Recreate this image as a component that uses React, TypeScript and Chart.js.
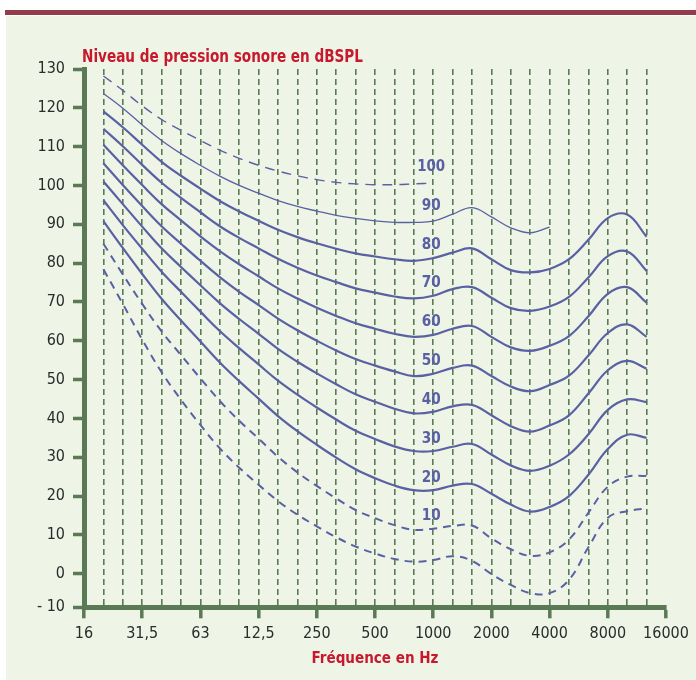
import React, { useEffect, useRef } from 'react';
import { Chart, registerables } from 'chart.js';

Chart.register(...registerables);

// Third-octave frequency categories (Hz), 16 Hz .. 16 kHz
const freqCategories = ['16', '20', '25', '31.5', '40', '50', '63', '80', '100', '125', '160', '200', '250', '315', '400', '500', '630', '800', '1000', '1250', '1600', '2000', '2500', '3150', '4000', '5000', '6300', '8000', '10000', '12500', '16000'];
// Octave tick labels as printed on the figure
const octaveTickLabels = ['16', '31,5', '63', '12,5', '250', '500', '1000', '2000', '4000', '8000', '16000'];

// Y ticks (the bottom "- 10" sits on the x axis, slightly compressed in the original drawing)
const yAxisBottom = -8.66;
const yTickValues = [yAxisBottom, 0, 10, 20, 30, 40, 50, 60, 70, 80, 90, 100, 110, 120, 130];
const yTickLabels = ['- 10', '0', '10', '20', '30', '40', '50', '60', '70', '80', '90', '100', '110', '120', '130'];

// Equal-loudness contours (dB SPL) at the third-octave categories
const curve100 = [null, 128.2, 124.5, 120.5, 117.0, 114.2, 111.6, 109.1, 107.0, 105.2, 103.7, 102.5, 101.5, 100.8, 100.4, 100.2, 100.2, 100.4, 100.6, null, null, null, null, null, null, null, null, null, null, null, null];
const curve90 = [null, 123.7, 119.9, 115.6, 111.6, 108.2, 105.2, 102.4, 100.0, 98.0, 96.1, 94.6, 93.4, 92.3, 91.5, 90.9, 90.5, 90.5, 90.8, 92.6, 94.3, 91.9, 89.1, 87.8, 89.3, null, null, null, null, null, null];
const curve80 = [null, 119.1, 115.0, 110.5, 106.1, 102.5, 99.2, 96.0, 93.3, 90.9, 88.6, 86.7, 85.1, 83.7, 82.5, 81.7, 81.0, 80.6, 81.3, 82.7, 83.8, 81.0, 78.2, 77.6, 78.5, 81.0, 86.0, 91.6, 92.5, 86.8, null];
const curve70 = [null, 114.6, 110.1, 105.3, 100.7, 96.8, 93.1, 89.5, 86.5, 83.8, 81.1, 78.8, 76.8, 75.1, 73.5, 72.4, 71.4, 70.9, 71.6, 73.3, 73.8, 71.1, 68.4, 67.7, 68.8, 71.3, 76.3, 81.8, 83.0, 78.0, null];
const curve60 = [null, 110.5, 105.2, 100.1, 95.2, 91.0, 86.9, 83.1, 79.7, 76.6, 73.5, 70.9, 68.5, 66.4, 64.5, 63.1, 61.8, 61.0, 61.5, 63.1, 63.8, 61.0, 58.3, 57.4, 58.7, 61.2, 66.3, 72.1, 73.8, 69.8, null];
const curve50 = [null, 105.7, 100.1, 94.7, 89.5, 85.0, 80.6, 76.4, 72.6, 69.2, 65.7, 62.7, 60.0, 57.5, 55.3, 53.6, 52.1, 50.9, 51.5, 53.0, 53.6, 50.9, 48.2, 47.0, 48.6, 51.0, 56.2, 62.0, 64.2, 61.0, null];
const curve40 = [null, 101.0, 95.2, 89.4, 83.8, 79.0, 74.3, 69.7, 65.6, 61.8, 57.9, 54.6, 51.6, 48.8, 46.2, 44.3, 42.5, 41.3, 41.7, 43.1, 43.5, 40.8, 38.0, 36.6, 38.2, 40.8, 46.4, 52.4, 54.8, 52.8, null];
const curve30 = [null, 96.2, 89.8, 83.7, 77.8, 72.6, 67.5, 62.5, 58.1, 53.9, 49.7, 46.1, 42.8, 39.7, 36.8, 34.7, 32.8, 31.6, 31.6, 32.7, 33.4, 30.7, 27.9, 26.5, 27.8, 30.7, 35.9, 42.2, 44.9, 44.2, null];
const curve20 = [null, 90.8, 83.9, 77.2, 70.8, 65.2, 59.8, 54.4, 49.6, 45.1, 40.6, 36.7, 33.2, 29.9, 26.9, 24.6, 22.7, 21.5, 21.5, 22.7, 23.1, 20.6, 17.8, 16.0, 17.2, 20.0, 25.5, 32.1, 35.8, 35.0, null];
const curve10 = [null, 85.0, 77.1, 69.5, 62.4, 56.3, 50.3, 44.5, 39.4, 34.8, 30.1, 26.1, 22.6, 19.4, 16.4, 14.3, 12.5, 11.3, 11.6, 12.3, 12.4, 9.1, 6.3, 4.6, 5.5, 8.8, 15.7, 22.4, 25.0, 25.2, null];
const threshold = [null, 78.4, 69.5, 60.3, 51.9, 44.8, 38.3, 32.3, 27.3, 22.9, 18.7, 15.2, 12.2, 9.4, 7.0, 5.2, 3.8, 3.1, 3.5, 4.5, 3.3, -0.1, -2.9, -5.0, -5.0, -1.6, 6.8, 14.4, 16.1, 16.8, null];

// Curve labels (phon) and the category where they are printed (1000 Hz)
const curvePhons = [100, 90, 80, 70, 60, 50, 40, 30, 20, 10];
const labelCategory = '1000';

const yTitle = 'Niveau de pression sonore en dBSPL';
const xTitle = 'Fréquence en Hz';

const CURVE = '#5961a3';
const GREEN = '#5a7a56';
const RED = '#c8182c';
const TICKFONT = "'DejaVu Sans Condensed', 'Liberation Sans Narrow', 'DejaVu Sans', sans-serif";
const BOLDFONT = "'DejaVu Sans Condensed', 'DejaVu Sans', sans-serif";

type Style = { data: (number | null)[]; width: number; dash: number[] };
const seriesStyles: Style[] = [
  { data: curve100, width: 1.4, dash: [10, 7] },
  { data: curve90, width: 1.3, dash: [] },
  { data: curve80, width: 2.2, dash: [] },
  { data: curve70, width: 2.2, dash: [] },
  { data: curve60, width: 2.2, dash: [] },
  { data: curve50, width: 2.2, dash: [] },
  { data: curve40, width: 2.2, dash: [] },
  { data: curve30, width: 2.2, dash: [] },
  { data: curve20, width: 2.2, dash: [] },
  { data: curve10, width: 2.0, dash: [8, 6] },
  { data: threshold, width: 2.0, dash: [8, 6] },
];

const annotatePlugin = {
  id: 'annotate',
  afterDatasetsDraw(chart: any) {
    const { ctx, chartArea, scales } = chart;
    const x = scales.x;
    const y = scales.y;
    ctx.save();
    // curve labels
    ctx.fillStyle = CURVE;
    ctx.font = `bold 16px ${BOLDFONT}`;
    ctx.textAlign = 'center';
    ctx.textBaseline = 'middle';
    const li = freqCategories.indexOf(labelCategory);
    curvePhons.forEach((p) => {
      const px = x.getPixelForValue(li) - 2;
      const py = y.getPixelForValue(p + 4.8);
      ctx.fillText(String(p), px, py, p >= 100 ? 28 : 19);
    });
    // axis titles
    ctx.fillStyle = RED;
    ctx.font = `bold 18px ${BOLDFONT}`;
    ctx.textAlign = 'left';
    ctx.textBaseline = 'alphabetic';
    ctx.fillText(yTitle, chartArea.left - 2, chartArea.top - 7.5, 281);
    ctx.font = `bold 16px ${BOLDFONT}`;
    ctx.textAlign = 'center';
    ctx.fillText(xTitle, (chartArea.left + chartArea.right) / 2, 663, 127);
    ctx.restore();
  },
};

function EqualLoudness() {
  const ref = useRef<HTMLCanvasElement | null>(null);
  useEffect(() => {
    if (!ref.current) return;
    const chart = new Chart(ref.current, {
      type: 'line',
      data: {
        labels: freqCategories,
        datasets: seriesStyles.map((s) => ({
          data: s.data,
          borderColor: CURVE,
          borderWidth: s.width,
          borderDash: s.dash,
          pointRadius: 0,
          fill: false,
          spanGaps: false,
          tension: 0.4,
        })),
      },
      options: {
        animation: false,
        responsive: false,
        devicePixelRatio: 1,
        layout: { padding: { top: 69, right: 30, bottom: 0, left: 0 } },
        plugins: { legend: { display: false }, title: { display: false }, tooltip: { enabled: false } },
        events: [],
        scales: {
          x: {
            type: 'category',
            offset: false,
            afterFit: (scale: any) => { scale.height = 72.7; },
            border: { display: true, color: GREEN, width: 5, dash: [6, 4] },
            grid: {
              display: true,
              drawOnChartArea: true,
              drawTicks: true,
              lineWidth: 1.6,
              color: (c: any) => (c.index === 0 || c.index === freqCategories.length - 1 ? 'rgba(0,0,0,0)' : GREEN),
              tickLength: 11,
              tickWidth: 3.5,
              tickColor: (c: any) => (c.index % 3 === 0 ? GREEN : 'rgba(0,0,0,0)'),
            },
            ticks: {
              autoSkip: false,
              maxRotation: 0,
              minRotation: 0,
              padding: 6,
              color: '#2b2b2b',
              font: { family: TICKFONT, size: 16 },
              callback: (_v: any, i: number) => (i % 3 === 0 ? octaveTickLabels[i / 3] : ''),
            },
          },
          y: {
            type: 'linear',
            min: yAxisBottom,
            max: 130,
            afterFit: (scale: any) => { scale.width = 84; },
            afterBuildTicks: (scale: any) => { scale.ticks = yTickValues.map((v) => ({ value: v })); },
            border: { display: true, color: GREEN, width: 5 },
            grid: {
              display: true,
              drawOnChartArea: false,
              drawTicks: true,
              tickLength: 11,
              tickWidth: 3.5,
              tickColor: GREEN,
              color: GREEN,
            },
            ticks: {
              autoSkip: false,
              padding: 8,
              color: '#2b2b2b',
              font: { family: TICKFONT, size: 16 },
              callback: (v: any) => {
                const i = yTickValues.indexOf(Number(v));
                return i >= 0 ? yTickLabels[i] : '';
              },
            },
          },
        },
      },
      plugins: [annotatePlugin],
    } as any);
    return () => chart.destroy();
  }, []);
  return <canvas ref={ref} width={696} height={680} style={{ position: 'absolute', left: 0, top: 0, width: 696, height: 680 }} />;
}

export default function App() {
  return (
    <div style={{ position: 'fixed', left: 0, top: 0, width: 696, height: 680, background: '#ffffff', overflow: 'hidden' }}>
      <div style={{ position: 'absolute', left: 5, top: 10, width: 691, height: 5, background: '#923d4b' }} />
      <div style={{ position: 'absolute', left: 6, top: 16, width: 690, height: 664, background: '#eef4e6' }} />
      <EqualLoudness />
    </div>
  );
}
